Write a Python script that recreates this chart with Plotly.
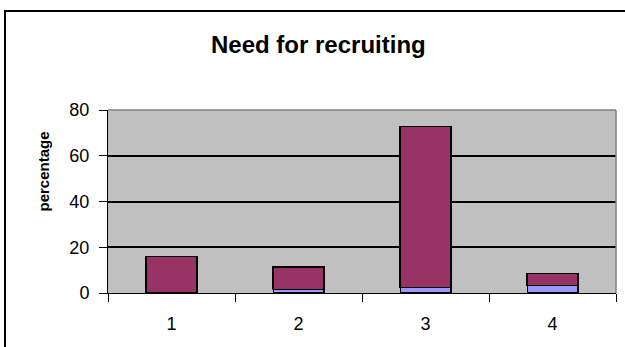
import plotly.graph_objects as go

categories = ["1", "2", "3", "4"]
series_blue = [0.3, 1.5, 2.3, 3.2]
series_maroon = [15.7, 9.9, 70.5, 5.3]
y_ticks = [0, 20, 40, 60, 80]

W, H = 625, 347
L, R, T, B = 108, 9, 110, 54
pw = W - L - R
ph = H - T - B

def px(x):
    return (x - L) / pw

def py(y):
    return (H - B - y) / ph

FONT = "Liberation Sans, Arial, sans-serif"

fig = go.Figure()
fig.add_trace(go.Bar(x=categories, y=series_blue, width=0.4,
                     marker=dict(color="#9999FF", line=dict(color="black", width=1.2))))
fig.add_trace(go.Bar(x=categories, y=series_maroon, width=0.4,
                     marker=dict(color="#993366", line=dict(color="black", width=1.5))))

fig.update_layout(
    width=W, height=H,
    margin=dict(l=L, r=R, t=T, b=B, pad=0),
    barmode="stack",
    showlegend=False,
    paper_bgcolor="white",
    plot_bgcolor="#C0C0C0",
    font=dict(family=FONT, color="black"),
    xaxis=dict(type="category", tickson="boundaries", ticks="outside", ticklen=8,
               tickcolor="black", tickwidth=1, showline=True, linecolor="black",
               linewidth=1, showgrid=False, tickfont=dict(size=18),
               ticklabelstandoff=14),
    yaxis=dict(range=[0, 80], tickvals=y_ticks, ticks="outside", ticklen=8,
               tickcolor="black", tickwidth=1, showline=True, linecolor="black",
               linewidth=1, showgrid=True, gridcolor="black", gridwidth=1.5,
               zeroline=False, tickfont=dict(size=18), ticklabelstandoff=6),
    shapes=[
        dict(type="line", xref="paper", yref="paper", x0=0, x1=1, y0=1, y1=1,
             line=dict(color="#808080", width=1.5), layer="above"),
        dict(type="line", xref="paper", yref="paper", x0=1, x1=1, y0=0, y1=1,
             line=dict(color="#808080", width=1.5), layer="above"),
        dict(type="rect", xref="paper", yref="paper", x0=px(5), x1=px(660),
             y0=py(370), y1=py(11), line=dict(color="black", width=2),
             fillcolor="rgba(0,0,0,0)", layer="below"),
    ],
    annotations=[
        dict(text="<b>Need for recruiting</b>", xref="paper", yref="paper",
             x=px(318), y=py(44), xanchor="center", yanchor="middle",
             showarrow=False, font=dict(size=24, family=FONT)),
        dict(text="<b>percentage</b>", xref="paper", yref="paper",
             x=px(43), y=py(171.5), xanchor="center", yanchor="middle",
             textangle=-90, showarrow=False, font=dict(size=15, family=FONT)),
    ],
)

fig.write_html("out.html")
